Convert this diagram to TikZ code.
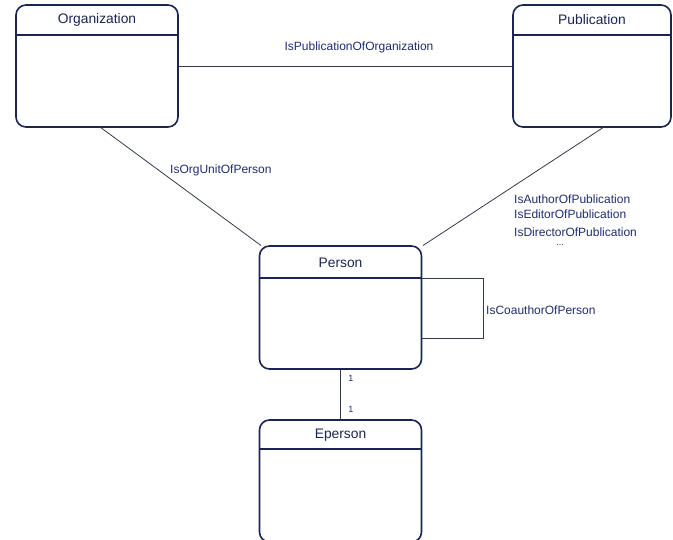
\documentclass[tikz,border=0pt]{standalone}
\usepackage{fontspec}
\setmainfont{Liberation Sans}
\definecolor{navy}{HTML}{1B2550}
\definecolor{lbl}{HTML}{1F2D6E}
\definecolor{conn}{HTML}{333A4A}
\begin{document}
\begin{tikzpicture}[x=1pt,y=-1pt,
  entity/.style={draw=navy,line width=1.6pt,rounded corners=10pt,fill=white,inner sep=0pt,minimum width=162pt,minimum height=122pt},
  title/.style={text=navy,font=\fontsize{13.8}{15}\selectfont},
  lab/.style={text=lbl,font=\fontsize{12}{13}\selectfont,inner sep=0pt},
  conn/.style={draw=conn,line width=0.8pt}]
\useasboundingbox (0,0) rectangle (673,539);
\clip (0,0) rectangle (673,539);
% boxes
\node[entity] (org) at (97,66) {};
\node[entity,minimum width=158pt] (pub) at (592,66) {};
\node[entity,minimum height=123pt] (per) at (340.5,307.5) {};
\node[entity] (eper) at (340.5,481) {};
% header lines
\draw[navy,line width=1.6pt] (16,35) -- (178,35);
\draw[navy,line width=1.6pt] (513,35) -- (671,35);
\draw[navy,line width=1.6pt] (259.5,278) -- (421.5,278);
\draw[navy,line width=1.6pt] (259.5,449) -- (421.5,449);
% titles
\node[title] at (97,20) {Organization};
\node[title] at (592,20) {Publication};
\node[title] at (340.5,263) {Person};
\node[title] at (340.5,435) {Eperson};
% connectors
\coordinate (orgb) at (100,127);
\coordinate (perl) at (261,245.5);
\coordinate (pubb) at (604,127);
\coordinate (perr) at (423,245.5);
\draw[conn] (org.east |- 0,66) -- (pub.west |- 0,66);
\draw[conn] (orgb) -- (perl);
\draw[conn] (pubb) -- (perr);
\coordinate (la) at (422,278);
\coordinate (lb) at (483,278);
\coordinate (lc) at (483,338);
\coordinate (ld) at (422,338);
\draw[conn] (la) -- (lb) -- (lc) -- (ld);
\draw[conn] (per.south) -- (eper.north);
% labels
\node[lab] at (359,47) {IsPublicationOfOrganization};
\node[lab,anchor=west] at (170,170) {IsOrgUnitOfPerson};
\node[lab,anchor=west] at (514,199) {IsAuthorOfPublication};
\node[lab,anchor=west] at (514,214) {IsEditorOfPublication};
\node[lab,anchor=west] at (514,232) {IsDirectorOfPublication};
\node[lab,font=\fontsize{9}{10}\selectfont] at (560,245) {...};
\node[lab,anchor=west] at (486,310) {IsCoauthorOfPerson};
\node[lab,font=\fontsize{9}{10}\selectfont] at (351,378) {1};
\node[lab,font=\fontsize{9}{10}\selectfont] at (351,409) {1};
\end{tikzpicture}
\end{document}
